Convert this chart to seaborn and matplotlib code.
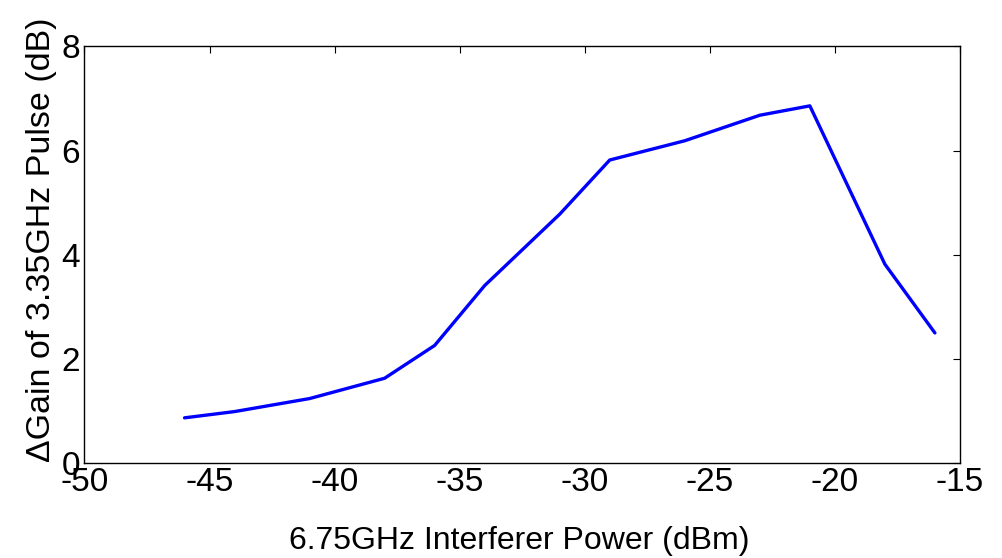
import seaborn as sns
import matplotlib.pyplot as plt
import pandas as pd

# interferer power (dBm) and gain change (dB)
power = [-46, -44, -41, -38, -36, -34, -31, -29, -26, -23, -21, -18, -16]
gain = [0.87, 0.99, 1.24, 1.63, 2.26, 3.41, 4.78, 5.82, 6.19, 6.68, 6.86, 3.82, 2.50]

x_ticks = [-50, -45, -40, -35, -30, -25, -20, -15]
y_ticks = [0, 2, 4, 6, 8]

sns.set_style("white")
plt.rcParams['font.family'] = ['Liberation Sans', 'DejaVu Sans']
plt.rcParams['axes.unicode_minus'] = False

df = pd.DataFrame({'power': power, 'gain': gain})

fig = plt.figure(figsize=(10.02, 5.58), dpi=100)
ax = fig.add_axes([0.0843, 0.170, 0.8737, 0.7467])
sns.lineplot(data=df, x='power', y='gain', ax=ax, color='#0000ff', linewidth=2.4)

ax.set_xlim(-50, -15)
ax.set_ylim(0, 8)
ax.set_xticks(x_ticks)
ax.set_yticks(y_ticks)
ax.tick_params(direction='in', length=5, width=0.8, top=True, right=True,
               labelsize=24, pad=3, colors='black')
for s in ax.spines.values():
    s.set_color('black')
    s.set_linewidth(1.0)

ax.set_xlabel('6.75GHz Interferer Power (dBm)', fontsize=23, color='black')
ax.set_ylabel('\u0394Gain of 3.35GHz Pulse (dB)', fontsize=24.5, color='black')
ax.xaxis.set_label_coords(0.497, -0.152)
ax.yaxis.set_label_coords(-0.031, 0.535)

fig.savefig('out.png', dpi=100)
